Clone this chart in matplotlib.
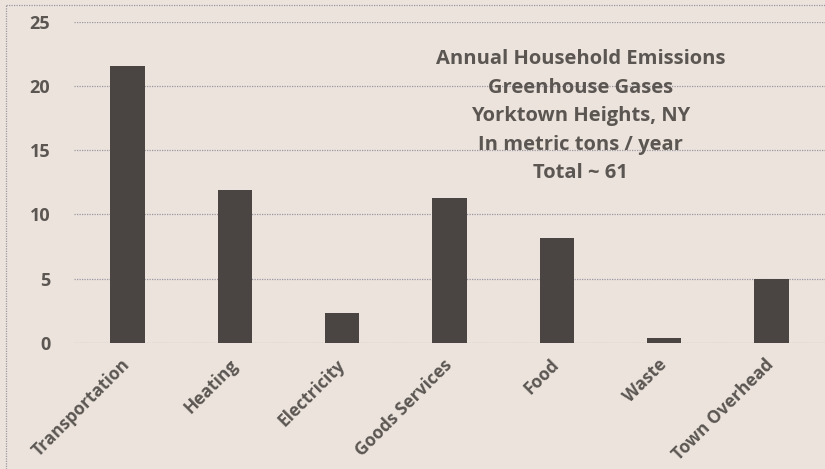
import matplotlib
matplotlib.use("Agg")
import matplotlib.pyplot as plt
from matplotlib.lines import Line2D

categories = ["Transportation", "Heating", "Electricity", "Goods Services",
              "Food", "Waste", "Town Overhead"]
emissions = [21.6, 11.9, 2.3, 11.3, 8.2, 0.4, 5.0]
yticks = [0, 5, 10, 15, 20, 25]
title_lines = ["Annual Household Emissions", "Greenhouse Gases",
               "Yorktown Heights, NY", "In metric tons / year", "Total ~ 61"]

paper = "#ebe3dc"
ink = "#5b5652"
bar_color = "#4a4442"
grid_color = "#9c96a2"

plt.rcParams['font.family'] = ['Open Sans', 'DejaVu Sans']

fig = plt.figure(figsize=(8.25, 4.69), dpi=100, facecolor=paper)
ax = fig.add_axes([74 / 825, 126.3 / 469, 751 / 825, 320.7 / 469])
ax.set_facecolor(paper)

x = range(len(categories))
ax.bar(x, emissions, width=0.32, color=bar_color, zorder=3)

ax.set_xlim(-0.5, 6.5)
ax.set_ylim(0, 25)
ax.set_yticks(yticks)
ax.set_yticklabels([str(v) for v in yticks], fontsize=13, fontweight='bold', color=ink)
ax.set_xticks(list(x))
ax.set_xticklabels(categories, rotation=45, ha='right', va='center',
                   rotation_mode='anchor', fontsize=12.5, fontweight='bold', color=ink)
ax.tick_params(axis='y', length=0, pad=17)
ax.tick_params(axis='x', length=0, pad=14)

for v in yticks:
    ax.axhline(v, color=grid_color, lw=0.9, ls=(0, (1, 1)), zorder=1)
for s in ax.spines.values():
    s.set_visible(False)

# title block in the upper right
for i, line in enumerate(title_lines):
    ax.text(4.22, 22.1 - i * 2.22, line, ha='center', va='center',
            fontsize=14.5, fontweight='bold', color=ink)

# dotted frame on the left and top of the scan
fig.add_artist(Line2D([6 / 825, 6 / 825], [0, 1 - 5 / 469], color=grid_color,
                      lw=0.9, ls=(0, (1, 1))))
fig.add_artist(Line2D([6 / 825, 1], [1 - 5 / 469, 1 - 5 / 469], color=grid_color,
                      lw=0.9, ls=(0, (1, 1))))

fig.savefig("out.png", dpi=100, facecolor=paper)
